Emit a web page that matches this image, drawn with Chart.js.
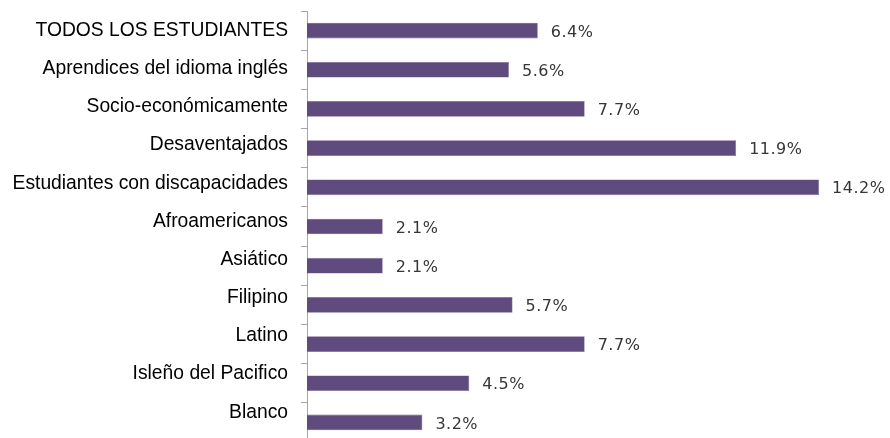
<!DOCTYPE html>
<html>
<head>
<meta charset="utf-8">
<script src="https://cdn.jsdelivr.net/npm/chart.js@4"></script>
<style>
html,body{margin:0;padding:0;background:#fff;overflow:hidden;}
#wrap{position:relative;width:890px;height:442px;}
</style>
</head>
<body>
<div id="wrap"><canvas id="c"></canvas></div>
<script>
const categories = [
  "TODOS LOS ESTUDIANTES",
  "Aprendices del idioma inglés",
  "Socio-económicamente",
  "Desaventajados",
  "Estudiantes con discapacidades",
  "Afroamericanos",
  "Asiático",
  "Filipino",
  "Latino",
  "Isleño del Pacifico",
  "Blanco"
];
const values = [6.4, 5.6, 7.7, 11.9, 14.2, 2.1, 2.1, 5.7, 7.7, 4.5, 3.2];
const valueLabels = ["6.4%", "5.6%", "7.7%", "11.9%", "14.2%", "2.1%", "2.1%", "5.7%", "7.7%", "4.5%", "3.2%"];

const valueLabelPlugin = {
  id: 'valueLabels',
  afterDatasetsDraw(chart) {
    const ctx = chart.ctx;
    const meta = chart.getDatasetMeta(0);
    ctx.save();
    ctx.font = '16px "DejaVu Sans"';
    if ('letterSpacing' in ctx) ctx.letterSpacing = '0.5px';
    ctx.fillStyle = '#363636';
    ctx.textAlign = 'left';
    ctx.textBaseline = 'middle';
    meta.data.forEach((bar, i) => {
      ctx.fillText(valueLabels[i], bar.x + 13, bar.y + 2);
    });
    ctx.restore();
  }
};

new Chart(document.getElementById('c'), {
  type: 'bar',
  data: {
    labels: categories,
    datasets: [{
      data: values,
      backgroundColor: '#5f4b7d',
      borderColor: '#7a6a94',
      borderWidth: 0.6,
      categoryPercentage: 1,
      barPercentage: 0.4
    }]
  },
  options: {
    indexAxis: 'y',
    responsive: true,
    maintainAspectRatio: false,
    animation: false,
    layout: { padding: { top: 11, bottom: 0, left: 0, right: 6 } },
    plugins: { legend: { display: false }, tooltip: { enabled: false } },
    scales: {
      x: {
        display: false,
        min: 0,
        max: 16
      },
      y: {
        type: 'category',
        position: 'left',
        weight: 0,
        offset: true,
        grid: {
          offset: true,
          drawOnChartArea: false,
          drawTicks: true,
          tickLength: 6,
          color: '#a6a6a6'
        },
        border: { display: true, color: '#a6a6a6', width: 1 },
        ticks: { display: false }
      },
      yl: {
        type: 'linear',
        position: 'left',
        weight: 1,
        reverse: true,
        offset: false,
        bounds: 'data',
        min: -0.513,
        max: 10.78,
        grid: { display: false, offset: false },
        border: { display: false },
        afterBuildTicks(axis) {
          axis.ticks = categories.map((_, i) => ({ value: i }));
        },
        afterFit(axis) {
          axis.width = 301;
          axis.paddingTop = 0;
          axis.paddingBottom = 0;
        },
        ticks: {
          padding: 5,
          color: '#000',
          font: { family: '"Liberation Sans", Arial, sans-serif', size: 19.3 },
          callback: (v) => categories[v] ?? ''
        }
      }
    }
  },
  plugins: [valueLabelPlugin]
});
</script>
</body>
</html>
